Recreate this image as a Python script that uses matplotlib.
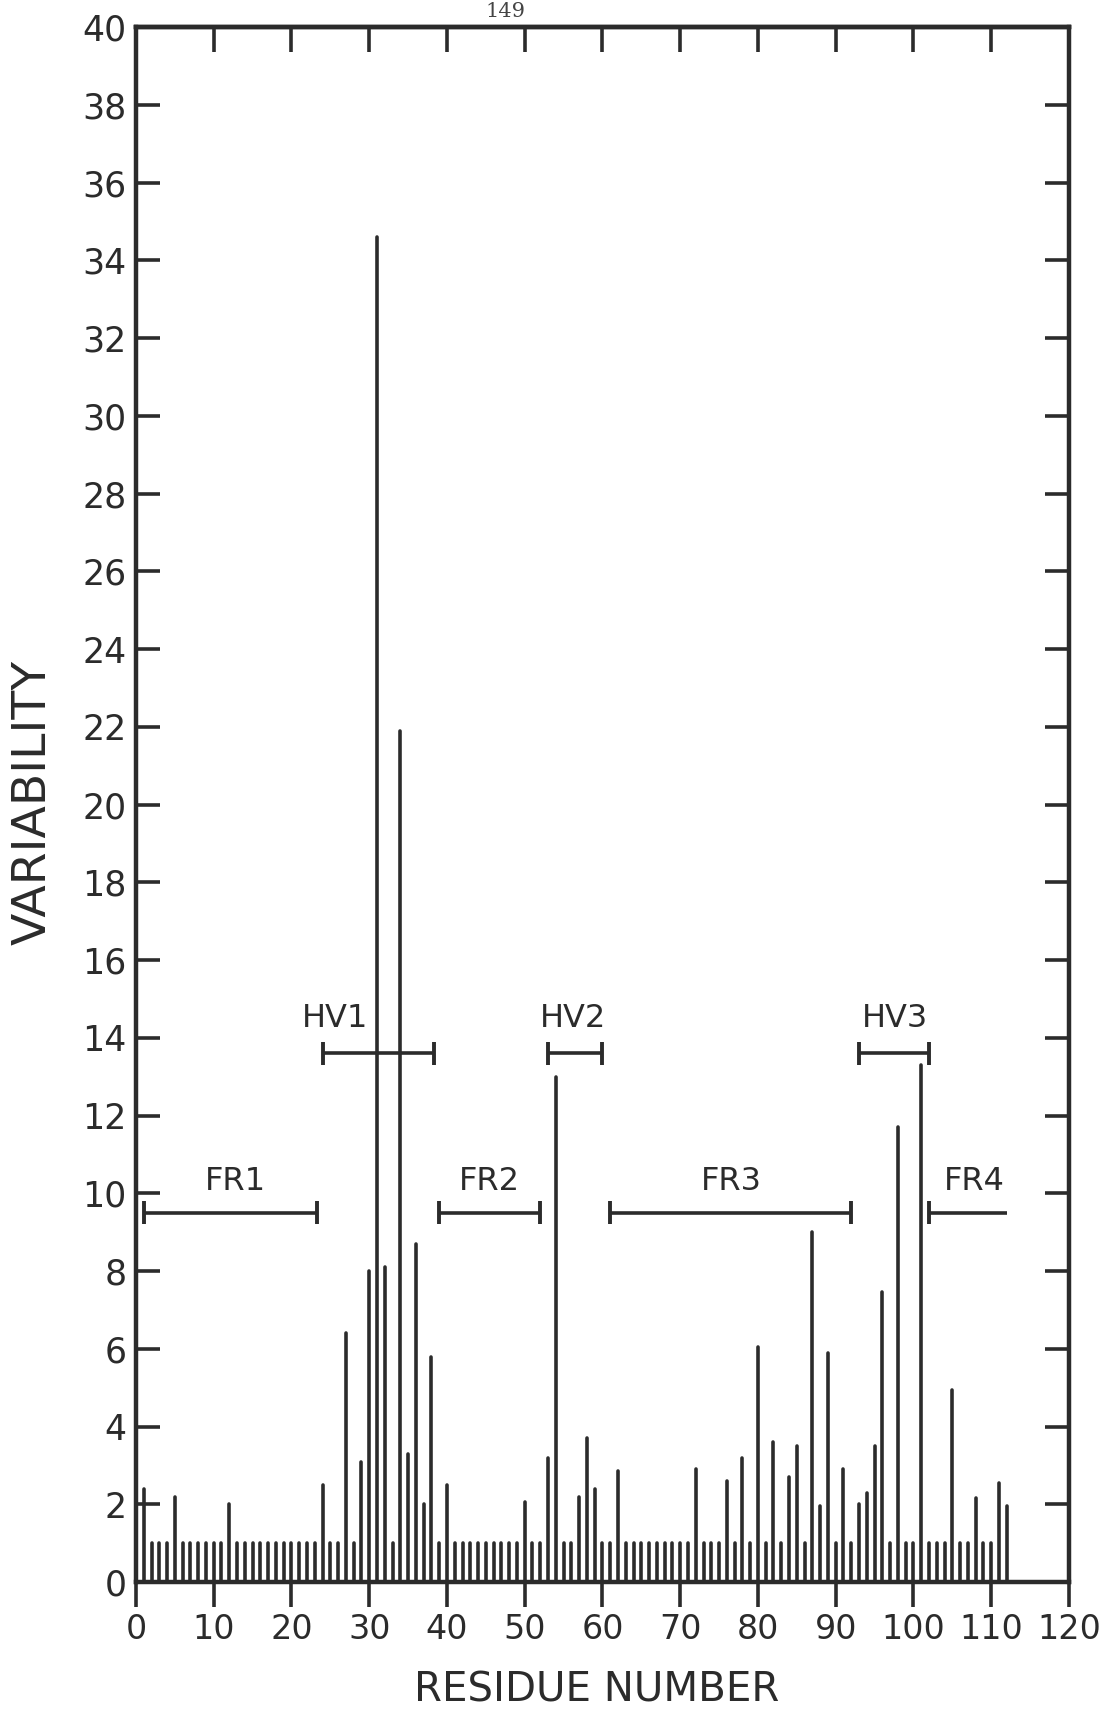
import numpy as np
import matplotlib
matplotlib.use("Agg")
import matplotlib.pyplot as plt

# variability per residue (Wu-Kabat style plot)
residues = np.arange(1, 113)
variability = [
    2.4, 1.0, 1.0, 1.0, 2.2, 1.0, 1.0, 1.0, 1.0, 1.0,      # 1-10
    1.0, 2.0, 1.0, 1.0, 1.0, 1.0, 1.0, 1.0, 1.0, 1.0,      # 11-20
    1.0, 1.0, 1.0, 2.5, 1.0, 1.0, 6.4, 1.0, 3.1, 8.0,      # 21-30
    34.6, 8.1, 1.0, 21.9, 3.3, 8.7, 2.0, 5.8, 1.0, 2.5,    # 31-40
    1.0, 1.0, 1.0, 1.0, 1.0, 1.0, 1.0, 1.0, 1.0, 2.05,     # 41-50
    1.0, 1.0, 3.2, 13.0, 1.0, 1.0, 2.2, 3.7, 2.4, 1.0,     # 51-60
    1.0, 2.85, 1.0, 1.0, 1.0, 1.0, 1.0, 1.0, 1.0, 1.0,     # 61-70
    1.0, 2.9, 1.0, 1.0, 1.0, 2.6, 1.0, 3.2, 1.0, 6.05,     # 71-80
    1.0, 3.6, 1.0, 2.7, 3.5, 1.0, 9.0, 1.95, 5.9, 1.0,     # 81-90
    2.9, 1.0, 2.0, 2.3, 3.5, 7.45, 1.0, 11.7, 1.0, 1.0,    # 91-100
    13.3, 1.0, 1.0, 1.0, 4.95, 1.0, 1.0, 2.15, 1.0, 1.0,   # 101-110
    2.55, 1.95,                                            # 111-112
]

# framework / hypervariable segments
regions = ["FR1", "HV1", "FR2", "HV2", "FR3", "HV3", "FR4"]
reg_start = [1, 24, 39, 53, 61, 93, 102]
reg_end = [23.3, 38.3, 52, 60, 92, 102, 112]
reg_level = [9.5, 13.6, 9.5, 13.6, 9.5, 13.6, 9.5]
reg_label_x = [12.8, 25.6, 45.5, 56.2, 76.6, 97.6, 107.8]
reg_label_y = [10.3, 14.5, 10.3, 14.5, 10.3, 14.5, 10.3]
reg_right_cap = [True, True, True, True, True, True, False]

xticks = list(range(0, 121, 10))
yticks = list(range(0, 41, 2))

ink = "#2b2b2b"
lw = 2.6

fig = plt.figure(figsize=(11.1, 17.12), dpi=100)
ax = fig.add_axes([0.1225, 0.0759, 0.8405, 0.9083])

bars = ax.vlines(residues, 0, variability, colors=ink, linewidth=lw)
bars.set_capstyle("round")

# segment brackets
ax.hlines(reg_level, reg_start, reg_end, colors=ink, linewidth=lw)
ax.vlines(reg_start, np.array(reg_level) - 0.3, np.array(reg_level) + 0.3,
          colors=ink, linewidth=2.8)
cap_x = [e for e, c in zip(reg_end, reg_right_cap) if c]
cap_y = np.array([l for l, c in zip(reg_level, reg_right_cap) if c])
ax.vlines(cap_x, cap_y - 0.3, cap_y + 0.3, colors=ink, linewidth=2.8)
for name, lx, ly in zip(regions, reg_label_x, reg_label_y):
    ax.text(lx, ly, name, ha="center", va="center", fontsize=23, color=ink)

ax.set_xlim(0, 120)
ax.set_ylim(0, 40)
for s in ax.spines.values():
    s.set_linewidth(3.2)
    s.set_color(ink)

ax.set_xticks(xticks)
ax.set_xticklabels([str(t) for t in xticks])
ax.set_yticks(yticks)
ax.set_yticklabels([str(t) for t in yticks])
ax.tick_params(axis="x", direction="out", length=18, width=lw, colors=ink,
               labelsize=24, pad=4)
ax.tick_params(axis="y", direction="in", length=17, width=lw, colors=ink,
               labelsize=25, pad=7, right=True)

top = ax.secondary_xaxis("top")
top.set_xticks(xticks)
top.tick_params(direction="in", length=18, width=lw, colors=ink, labeltop=False)
top.spines["top"].set_linewidth(3.2)
top.spines["top"].set_color(ink)

ax.set_xlabel("RESIDUE NUMBER", fontsize=29, color=ink)
ax.xaxis.set_label_coords(0.494, -0.0695)
ax.xaxis.label.set_va("center")
ax.set_ylabel("VARIABILITY", fontsize=34, color=ink)
ax.yaxis.set_label_coords(-0.110, 0.5016)
ax.yaxis.label.set_va("center")

# page number at the scan edge
fig.text(505 / 1110, 1 - 17 / 1712, "149", ha="center", va="baseline",
         family="DejaVu Serif", fontsize=15, color="#444444")

fig.savefig("out.png", dpi=100, facecolor="white")
